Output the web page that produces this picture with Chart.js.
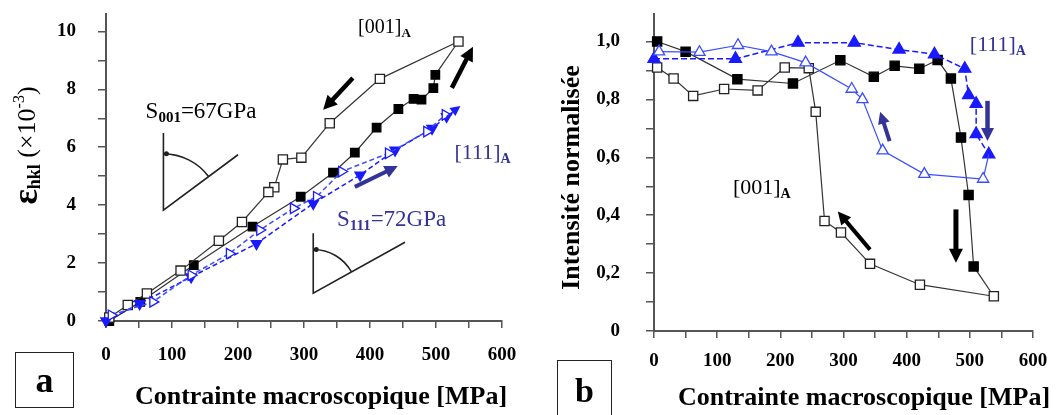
<!DOCTYPE html>
<html lang="fr">
<head>
<meta charset="utf-8">
<title>Déformation et intensité normalisée</title>
<script src="https://cdn.jsdelivr.net/npm/chart.js@4.4.1/dist/chart.umd.min.js"></script>
<style>
  body { margin: 0; background: #fff; }
  #page { position: relative; width: 1060px; height: 415px; overflow: hidden; }
  canvas { position: absolute; top: 0; }
  #grafA { left: 0; }
  #grafB { left: 530px; }
  .lettre {
    position: absolute; box-sizing: border-box; border: 1.5px solid #222;
    font: bold 36px "Liberation Serif", serif; color: #000;
    display: flex; align-items: center; justify-content: center;
  }
</style>
</head>
<body>
<div id="page">
  <canvas id="grafA" width="530" height="415"></canvas>
  <canvas id="grafB" width="530" height="415"></canvas>
  <div class="lettre" style="left:15px;top:352px;width:59px;height:56px;">a</div>
  <div class="lettre" style="left:557px;top:360px;width:55px;height:62px;font-size:34px;">b</div>
</div>
<script>
// ---- panneau a : deformation (x10^-3) ----
const contChargeA001 = [5, 52, 133, 222, 295, 344, 377, 410, 443, 466, 478, 496, 499, 534];
const defChargeA001 = [0, 0.66, 1.93, 3.26, 4.29, 5.12, 5.81, 6.68, 7.32, 7.67, 7.64, 8.04, 8.50, 9.65];

const contDechargeA001 = [534, 415, 339, 296, 268, 255, 246, 206, 171, 113, 62, 33, 5];
const defDechargeA001 = [9.65, 8.36, 6.83, 5.64, 5.58, 4.62, 4.45, 3.42, 2.77, 1.74, 0.95, 0.55, 0.12];

const contChargeA111 = [0, 51, 129, 228, 314, 385, 438, 494, 516];
const defChargeA111 = [0, 0.60, 1.52, 2.67, 4.06, 5.04, 5.90, 6.65, 7.06];

const contDechargeA111 = [8, 71, 129, 187, 233, 284, 319, 357, 428, 486, 514];
const defDechargeA111 = [0.20, 0.66, 1.58, 2.33, 3.14, 3.89, 4.29, 5.16, 5.79, 6.54, 7.12];

// ---- panneau b : intensite normalisee ----
const contChargeB001 = [5, 50, 132, 220, 295, 348, 381, 420, 449, 470, 486, 498, 506, 538];
const intChargeB001 = [1.00, 0.965, 0.870, 0.855, 0.935, 0.878, 0.916, 0.906, 0.936, 0.872, 0.668, 0.47, 0.223, 0.12];

const contDechargeB001 = [538, 421, 342, 296, 270, 256, 245, 207, 164, 111, 62, 31, 5];
const intDechargeB001 = [0.12, 0.16, 0.232, 0.34, 0.38, 0.757, 0.908, 0.91, 0.831, 0.836, 0.812, 0.872, 0.91];

const contChargeB111 = [0, 129, 228, 317, 388, 444, 492, 498, 510, 510, 530];
const intChargeB111 = [0.94, 0.94, 0.996, 0.996, 0.972, 0.956, 0.906, 0.815, 0.785, 0.68, 0.61];

const contDechargeB111 = [530, 521, 428, 362, 330, 313, 240, 186, 133, 72, 8];
const intDechargeB111 = [0.61, 0.525, 0.542, 0.623, 0.80, 0.836, 0.927, 0.965, 0.987, 0.963, 0.965];

// etiquettes des axes
const etiquettesContrainte = ['0', '100', '200', '300', '400', '500', '600'];
const etiquettesDeformation = ['0', '2', '4', '6', '8', '10'];
const etiquettesIntensite = ['0', '0,2', '0,4', '0,6', '0,8', '1,0'];

const F = '"Liberation Serif", "Times New Roman", serif';
const BLEU = '#1a1aff';
const BLEU_CLAIR = '#3a4cff';
const MARINE = '#333399';

const points = (xs, ys) => xs.map((x, i) => ({ x: x, y: ys[i] }));

function serie(xs, ys, style) {
  return Object.assign({
    data: points(xs, ys),
    showLine: true,
    clip: false,
    borderWidth: 1.2,
    pointBorderWidth: 1.3
  }, style);
}

function fleche(ctx, x1, y1, x2, y2, couleur, ep, tete) {
  const ang = Math.atan2(y2 - y1, x2 - x1);
  const bx = x2 - Math.cos(ang) * tete;
  const by = y2 - Math.sin(ang) * tete;
  ctx.strokeStyle = couleur;
  ctx.fillStyle = couleur;
  ctx.lineWidth = ep;
  ctx.setLineDash([]);
  ctx.beginPath();
  ctx.moveTo(x1, y1);
  ctx.lineTo(bx + Math.cos(ang), by + Math.sin(ang));
  ctx.stroke();
  ctx.beginPath();
  ctx.moveTo(x2, y2);
  ctx.lineTo(bx + Math.sin(ang) * tete * 0.5, by - Math.cos(ang) * tete * 0.5);
  ctx.lineTo(bx - Math.sin(ang) * tete * 0.5, by + Math.cos(ang) * tete * 0.5);
  ctx.closePath();
  ctx.fill();
}

function texteRiche(ctx, morceaux, x, y, couleur, rotation, align) {
  ctx.save();
  ctx.translate(x, y);
  ctx.rotate(rotation);
  ctx.fillStyle = couleur;
  ctx.textBaseline = 'middle';
  ctx.textAlign = 'left';
  let total = 0;
  morceaux.forEach(m => { ctx.font = m.f; total += ctx.measureText(m.t).width; });
  let cx = align === 'center' ? -total / 2 : 0;
  morceaux.forEach(m => {
    ctx.font = m.f;
    ctx.fillText(m.t, cx, m.dy || 0);
    cx += ctx.measureText(m.t).width;
  });
  ctx.restore();
}

// fleches, textes, petits angles et titres d'axes
function habillage(cfg) {
  return {
    id: 'habillage',
    afterDatasetsDraw(chart) {
      const ctx = chart.ctx;
      const px = v => chart.scales.x.getPixelForValue(v);
      const py = v => chart.scales.y.getPixelForValue(v);
      ctx.save();

      cfg.angles.forEach(a => {
        const sx = px(a.sommet[0]), sy = py(a.sommet[1]);
        const hy = py(a.haut);
        const ex = px(a.bout[0]), ey = py(a.bout[1]);
        const r = (sy - hy) * 0.73;
        const ang = Math.atan2(ey - sy, ex - sx);
        ctx.strokeStyle = '#222';
        ctx.fillStyle = '#222';
        ctx.lineWidth = 1.6;
        ctx.beginPath();
        ctx.moveTo(sx, hy);
        ctx.lineTo(sx, sy);
        ctx.lineTo(ex, ey);
        ctx.stroke();
        ctx.beginPath();
        ctx.arc(sx, sy, r, -Math.PI / 2, ang, false);
        ctx.stroke();
        ctx.beginPath();
        ctx.arc(sx + 3, sy - r, 2.5, 0, Math.PI * 2);
        ctx.fill();
      });

      cfg.fleches.forEach(f => {
        fleche(ctx, px(f.de[0]), py(f.de[1]), px(f.a[0]), py(f.a[1]), f.couleur, f.ep, f.tete);
      });

      cfg.textes.forEach(t => {
        texteRiche(ctx, t.morceaux, px(t.pos[0]), py(t.pos[1]), t.couleur, 0, 'left');
      });

      const a = chart.chartArea;
      texteRiche(ctx, cfg.titreX.morceaux, a.left + cfg.titreX.dx, a.bottom + cfg.titreX.dy, '#000', 0, 'center');
      texteRiche(ctx, cfg.titreY.morceaux, cfg.titreY.x, (a.top + a.bottom) / 2 + cfg.titreY.dy, '#000', -Math.PI / 2, 'center');

      ctx.restore();
    }
  };
}

function creerGraphique(id, datasets, cfg) {
  const policeTicks = { family: F, size: 19, weight: 'bold' };
  return new Chart(document.getElementById(id), {
    type: 'scatter',
    data: { datasets: datasets },
    options: {
      responsive: false,
      animation: false,
      layout: { padding: { top: 14, right: cfg.droite, left: 0, bottom: 0 } },
      plugins: { legend: { display: false }, tooltip: { enabled: false } },
      scales: {
        x: {
          type: 'linear', min: 0, max: 600, bounds: 'data',
          grid: { drawOnChartArea: false, tickLength: 7, color: '#555', lineWidth: 1.5 },
          border: { color: '#555', width: 2 },
          ticks: {
            stepSize: 50, autoSkip: false, maxRotation: 0, padding: cfg.padX,
            color: '#000', font: policeTicks,
            callback: v => v % 100 === 0 ? etiquettesContrainte[v / 100] : ''
          },
          // taille fixe de l'axe, sans marge ajoutee par les etiquettes
          afterFit: s => { s.height = cfg.hautX; s.paddingLeft = 0; s.paddingRight = 0; }
        },
        y: {
          type: 'linear', min: 0, max: cfg.maxY, bounds: 'data',
          grid: { drawOnChartArea: false, tickLength: 8, color: '#555', lineWidth: 1.5 },
          border: { color: '#555', width: 2 },
          ticks: {
            stepSize: cfg.pasY, includeBounds: false, autoSkip: false, padding: cfg.padY,
            color: '#000', font: policeTicks,
            callback: cfg.etiquetteY
          },
          afterFit: s => { s.width = cfg.largeY; s.paddingTop = 0; s.paddingBottom = 0; }
        }
      }
    },
    plugins: [habillage(cfg)]
  });
}

const carreVide = { pointStyle: 'rect', pointRadius: 6.5, borderColor: '#333', pointBorderColor: '#222', pointBackgroundColor: '#fff' };
const carrePlein = { pointStyle: 'rect', pointRadius: 6, borderColor: '#333', pointBorderColor: '#000', pointBackgroundColor: '#000' };

// ---- graphique a ----
creerGraphique('grafA', [
  serie(contDechargeA111, defDechargeA111, {
    pointStyle: 'triangle', pointRotation: 90, pointRadius: 6,
    borderColor: BLEU_CLAIR, borderDash: [5, 3], borderWidth: 1.5,
    pointBorderColor: BLEU, pointBackgroundColor: '#fff'
  }),
  serie(contChargeA111, defChargeA111, {
    pointStyle: 'triangle', pointRotation: 180, pointRadius: 6,
    borderColor: BLEU, borderDash: [5, 3], borderWidth: 1.5,
    pointBorderColor: BLEU, pointBackgroundColor: BLEU
  }),
  serie(contDechargeA001, defDechargeA001, carreVide),
  serie(contChargeA001, defChargeA001, Object.assign({}, carrePlein, {
    pointRadius: c => c.dataIndex === contChargeA001.length - 1 ? 0 : 6
  }))
], {
  droite: 28, hautX: 94, largeY: 106, maxY: 10.6, pasY: 1, padX: 16, padY: 22,
  etiquetteY: v => v % 2 === 0 ? etiquettesDeformation[v / 2] : '',
  angles: [
    { sommet: [87, 3.83], haut: 6.49, bout: [200, 5.74] },
    { sommet: [314, 0.96], haut: 3.03, bout: [453, 2.72] }
  ],
  fleches: [
    { de: [374, 8.39], a: [329, 7.29], couleur: '#000', ep: 4.5, tete: 14 },
    { de: [524, 8.05], a: [556, 9.47], couleur: '#000', ep: 4.5, tete: 14 },
    { de: [377, 4.63], a: [442, 5.35], couleur: MARINE, ep: 4, tete: 13 },
    { de: [516, 7.06], a: [537, 7.42], couleur: BLEU, ep: 1.5, tete: 10 }
  ],
  textes: [
    { pos: [382, 10.13], couleur: '#000', morceaux: [
      { t: '[001]', f: `20px ${F}` }, { t: 'A', f: `bold 13px ${F}`, dy: 6 }] },
    { pos: [60, 7.22], couleur: '#000', morceaux: [
      { t: 'S', f: `23px ${F}` }, { t: '001', f: `bold 15px ${F}`, dy: 6 }, { t: '=67GPa', f: `23px ${F}` }] },
    { pos: [528, 5.8], couleur: MARINE, morceaux: [
      { t: '[111]', f: `22px ${F}` }, { t: 'A', f: `bold 14px ${F}`, dy: 6 }] },
    { pos: [350, 3.48], couleur: MARINE, morceaux: [
      { t: 'S', f: `23px ${F}` }, { t: '111', f: `bold 15px ${F}`, dy: 6 }, { t: '=72GPa', f: `23px ${F}` }] }
  ],
  titreX: { dx: 215, dy: 76, morceaux: [{ t: 'Contrainte macroscopique [MPa]', f: `bold 26px ${F}` }] },
  titreY: { x: 28, dy: -22, morceaux: [
    { t: 'ε', f: `bold 36px ${F}` }, { t: 'hkl', f: `bold 18px ${F}`, dy: 7 },
    { t: ' (×10', f: `26px ${F}` }, { t: '-3', f: `16px ${F}`, dy: -8 }, { t: ')', f: `26px ${F}` }] }
});

// ---- graphique b ----
creerGraphique('grafB', [
  serie(contDechargeB111, intDechargeB111, {
    pointStyle: 'triangle', pointRadius: c => c.dataIndex === 0 ? 0 : 6.5,
    borderColor: BLEU_CLAIR, pointBorderColor: BLEU_CLAIR, pointBackgroundColor: '#fff'
  }),
  serie(contChargeB111, intChargeB111, {
    pointStyle: 'triangle', pointRadius: 7,
    borderColor: BLEU, borderDash: [6, 3], borderWidth: 1.5,
    pointBorderColor: BLEU, pointBackgroundColor: BLEU
  }),
  serie(contDechargeB001, intDechargeB001, carreVide),
  serie(contChargeB001, intChargeB001, Object.assign({}, carrePlein, {
    pointRadius: c => c.dataIndex === contChargeB001.length - 1 ? 0 : 6.5
  }))
], {
  droite: 27, hautX: 84, largeY: 124, maxY: 1.095, pasY: 0.1, padX: 12, padY: 26,
  etiquetteY: v => {
    const d = Math.round(v * 10);
    return d % 2 === 0 ? etiquettesIntensite[d / 2] : '';
  },
  angles: [],
  fleches: [
    { de: [342, 0.281], a: [291, 0.413], couleur: '#000', ep: 4, tete: 13 },
    { de: [478, 0.42], a: [478, 0.236], couleur: '#000', ep: 5, tete: 14 },
    { de: [373, 0.656], a: [358, 0.757], couleur: MARINE, ep: 4, tete: 12 },
    { de: [528, 0.795], a: [528, 0.656], couleur: MARINE, ep: 4.5, tete: 13 }
  ],
  textes: [
    { pos: [125, 0.493], couleur: '#000', morceaux: [
      { t: '[001]', f: `22px ${F}` }, { t: 'A', f: `bold 14px ${F}`, dy: 6 }] },
    { pos: [500, 0.986], couleur: MARINE, morceaux: [
      { t: '[111]', f: `22px ${F}` }, { t: 'A', f: `bold 14px ${F}`, dy: 6 }] }
  ],
  titreX: { dx: 210, dy: 67, morceaux: [{ t: 'Contrainte macroscopique [MPa]', f: `bold 26px ${F}` }] },
  titreY: { x: 42, dy: 5, morceaux: [{ t: 'Intensité normalisée', f: `bold 26px ${F}` }] }
});
</script>
</body>
</html>
